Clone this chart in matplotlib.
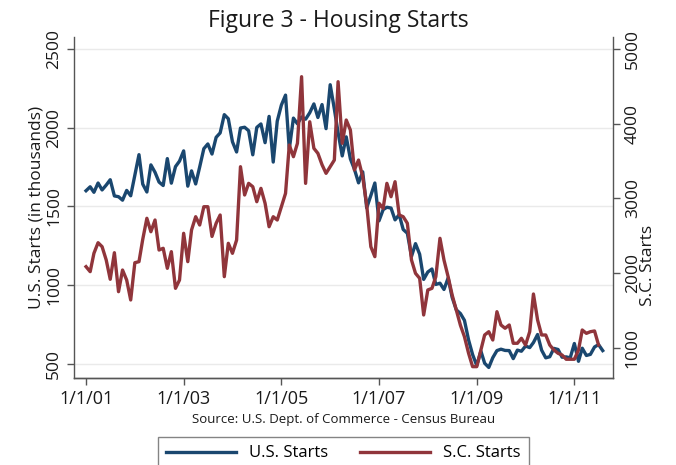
import matplotlib
matplotlib.use("Agg")
import matplotlib.pyplot as plt
import pandas as pd

plt.rcParams['font.family'] = ['Open Sans', 'DejaVu Sans']

# monthly U.S. housing starts (thousands, SAAR), Jan 2001 - Aug 2011
us_starts = [
    1600, 1625, 1590, 1649, 1605, 1636, 1670, 1567, 1562, 1540, 1602, 1568,  # 2001
    1698, 1829, 1642, 1592, 1764, 1717, 1655, 1633, 1804, 1648, 1753, 1788,  # 2002
    1853, 1629, 1726, 1643, 1751, 1867, 1897, 1833, 1939, 1967, 2083, 2057,  # 2003
    1911, 1846, 1998, 2003, 1981, 1828, 2002, 2024, 1905, 2072, 1782, 2042,  # 2004
    2144, 2207, 1864, 2061, 2025, 2068, 2054, 2095, 2151, 2065, 2147, 1994,  # 2005
    2273, 2119, 1969, 1821, 1942, 1802, 1737, 1650, 1720, 1491, 1570, 1649,  # 2006
    1409, 1480, 1495, 1490, 1415, 1448, 1354, 1330, 1183, 1264, 1197, 1037,  # 2007
    1084, 1103, 1005, 1013, 973, 1046, 923, 844, 820, 777, 652, 560,         # 2008
    490, 582, 505, 478, 540, 585, 594, 586, 585, 534, 588, 581,              # 2009
    614, 604, 636, 687, 588, 539, 546, 599, 592, 543, 545, 539,              # 2010
    630, 517, 600, 554, 561, 608, 623, 585,                                  # 2011
]

# monthly S.C. housing starts, Jan 2001 - Jul 2011
sc_starts = [
    2085, 2018, 2264, 2406, 2353, 2174, 1916, 2272, 1750, 2040, 1906, 1639,  # 2001
    2138, 2152, 2450, 2733, 2553, 2710, 2308, 2331, 2063, 2286, 1795, 1906,  # 2002
    2532, 2152, 2576, 2754, 2643, 2888, 2888, 2490, 2666, 2777, 1951, 2398,  # 2003
    2264, 2442, 3424, 3045, 3201, 3156, 2955, 3134, 2934, 2620, 2754, 2710,  # 2004
    2888, 3067, 3714, 3558, 3737, 4629, 3201, 4026, 3670, 3603, 3450, 3335,  # 2005
    3424, 3513, 4562, 3737, 4049, 3915, 3380, 3513, 3290, 2911, 2352, 2219,  # 2006
    2934, 2866, 3201, 3022, 3223, 2777, 2754, 2666, 2174, 1996, 1929, 1438,  # 2007
    1773, 1795, 1951, 2465, 2174, 1950, 1706, 1505, 1300, 1147, 925, 746,    # 2008
    746, 969, 1170, 1214, 1103, 1482, 1304, 1260, 1304, 1059, 1059, 1126,    # 2009
    1036, 1214, 1719, 1371, 1170, 1170, 1036, 969, 925, 902, 845, 845,       # 2010
    845, 969, 1237, 1192, 1214, 1224, 1036,                                  # 2011
]

us_dates = pd.date_range("2001-01-01", periods=len(us_starts), freq="MS")
sc_dates = pd.date_range("2001-01-01", periods=len(sc_starts), freq="MS")

tick_dates = pd.to_datetime(["2001-01-01", "2003-01-01", "2005-01-01",
                             "2007-01-01", "2009-01-01", "2011-01-01"])
tick_labels = ["1/1/01", "1/1/03", "1/1/05", "1/1/07", "1/1/09", "1/1/11"]

navy = '#1a476f'
maroon = '#90353b'
axcol = '#555555'
txt = '#1a1a1a'

fig = plt.figure(figsize=(6.76, 4.65), dpi=100)
ax = fig.add_axes([74/676, 1 - 378/465, (613 - 74)/676, (378 - 37)/465])
ax2 = ax.twinx()

l1, = ax.plot(us_dates, us_starts, color=navy, lw=2.4, solid_joinstyle='round')
l2, = ax2.plot(sc_dates, sc_starts, color=maroon, lw=2.4, solid_joinstyle='round')

ax.set_xlim(pd.Timestamp("2000-10-03"), pd.Timestamp("2011-10-17"))
ax.set_ylim(411, 2576)
ax2.set_ylim(594, 5161)

ax.set_xticks(tick_dates)
ax.set_xticklabels(tick_labels, fontsize=13, color=txt)
ax.set_yticks([500, 1000, 1500, 2000, 2500])
ax.set_yticklabels(['500', '1000', '1500', '2000', '2500'], rotation=90, va='center', fontsize=12.5, color=txt)
ax2.set_yticks([1000, 2000, 3000, 4000, 5000])
ax2.set_yticklabels(['1000', '2000', '3000', '4000', '5000'], rotation=90, va='center', fontsize=12.5, color=txt)

ax.grid(axis='y', color='#eaeaea', lw=1)
ax.set_axisbelow(True)

for a in (ax, ax2):
    a.spines['top'].set_visible(False)
    for s in ('left', 'right', 'bottom'):
        a.spines[s].set_color(axcol)
        a.spines[s].set_linewidth(1)
    a.tick_params(color=axcol, length=5, width=1)
ax2.spines['left'].set_visible(False)
ax.spines['right'].set_visible(False)

ax.set_ylabel("U.S. Starts (in thousands)", fontsize=12.5, color=txt)
ax.yaxis.set_label_coords(-0.055, 0.5)
ax2.set_ylabel("S.C. Starts", fontsize=12.5, color=txt, rotation=90)
ax2.yaxis.set_label_coords(1.05, 0.33)

ax.set_xlabel("Source: U.S. Dept. of Commerce - Census Bureau", fontsize=9.5, color=txt, labelpad=4)

fig.text(0.5, 0.955, "Figure 3 - Housing Starts", ha='center', va='center', fontsize=16.5, color=txt)

leg = fig.legend([l1, l2], ["U.S. Starts", "S.C. Starts"], loc='upper center',
                 bbox_to_anchor=(0.508, 1 - 437/465), ncol=2, fontsize=12,
                 frameon=True, fancybox=False, edgecolor='#666666',
                 handlelength=4.2, columnspacing=1.9, borderpad=0.5,
                 borderaxespad=0)
leg.get_frame().set_linewidth(1)

fig.savefig("out.png", dpi=100, facecolor='white')
